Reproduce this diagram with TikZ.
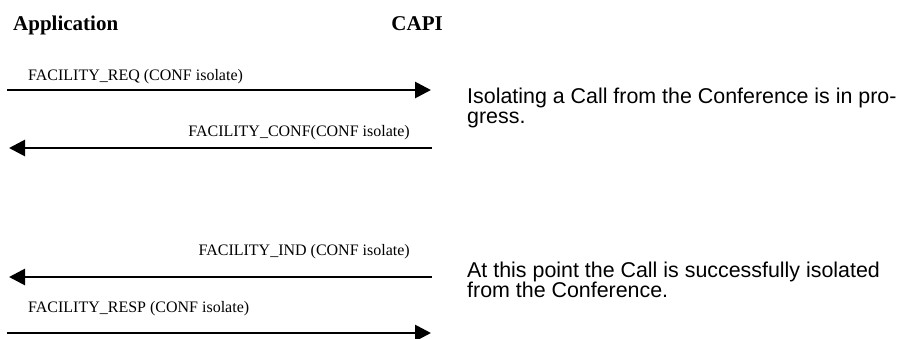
\documentclass[tikz,border=0pt]{standalone}
\usepackage{fontspec}
\setmainfont{Liberation Serif}
\newfontfamily\arialfont{Liberation Sans}
\usetikzlibrary{arrows.meta}
\begin{document}
\begin{tikzpicture}[x=1pt,y=-1pt,
  msg/.style={line width=2.8pt,-{Triangle[length=16pt,width=16pt]}},
  lbl/.style={inner sep=0pt,font=\fontsize{16}{19}\selectfont},
  head/.style={inner sep=0pt,font=\fontsize{21}{24}\selectfont\bfseries},
  note/.style={inner sep=0pt,align=left,font=\arialfont\fontsize{21.4}{21}\selectfont}]
\useasboundingbox (0,0) rectangle (900,338);
\clip (0,0) rectangle (900,338);
\node[head,anchor=base west] (app) at (13,30) {Application};
\node[head,anchor=base east] (capi) at (443,30) {CAPI};
% endpoints
\coordinate (a1) at (7,90);   \coordinate (b1) at (431,90);
\coordinate (b2) at (432,148); \coordinate (a2) at (9,148);
\coordinate (b3) at (432,277); \coordinate (a3) at (9,277);
\coordinate (a4) at (7,333);  \coordinate (b4) at (431,333);
\draw[msg] (a1) -- (b1);
\draw[msg] (b2) -- (a2);
\draw[msg] (b3) -- (a3);
\draw[msg] (a4) -- (b4);
\node[lbl,anchor=base west] (l1) at (28,80) {FACILITY\_REQ (CONF isolate)};
\node[lbl,anchor=base east] (l2) at (410,136) {FACILITY\_CONF(CONF isolate)};
\node[lbl,anchor=base east] (l3) at (410,255) {FACILITY\_IND (CONF isolate)};
\node[lbl,anchor=base west] (l4) at (28,312) {FACILITY\_RESP (CONF isolate)};
\node[note,anchor=base west] (n1) at (467,123) {Isolating a Call from the Conference is in pro-\\[-1pt]gress.};
\node[note,anchor=base west] (n2) at (467,297) {At this point the Call is successfully isolated\\[-1pt]from the Conference.};
\end{tikzpicture}
\end{document}
